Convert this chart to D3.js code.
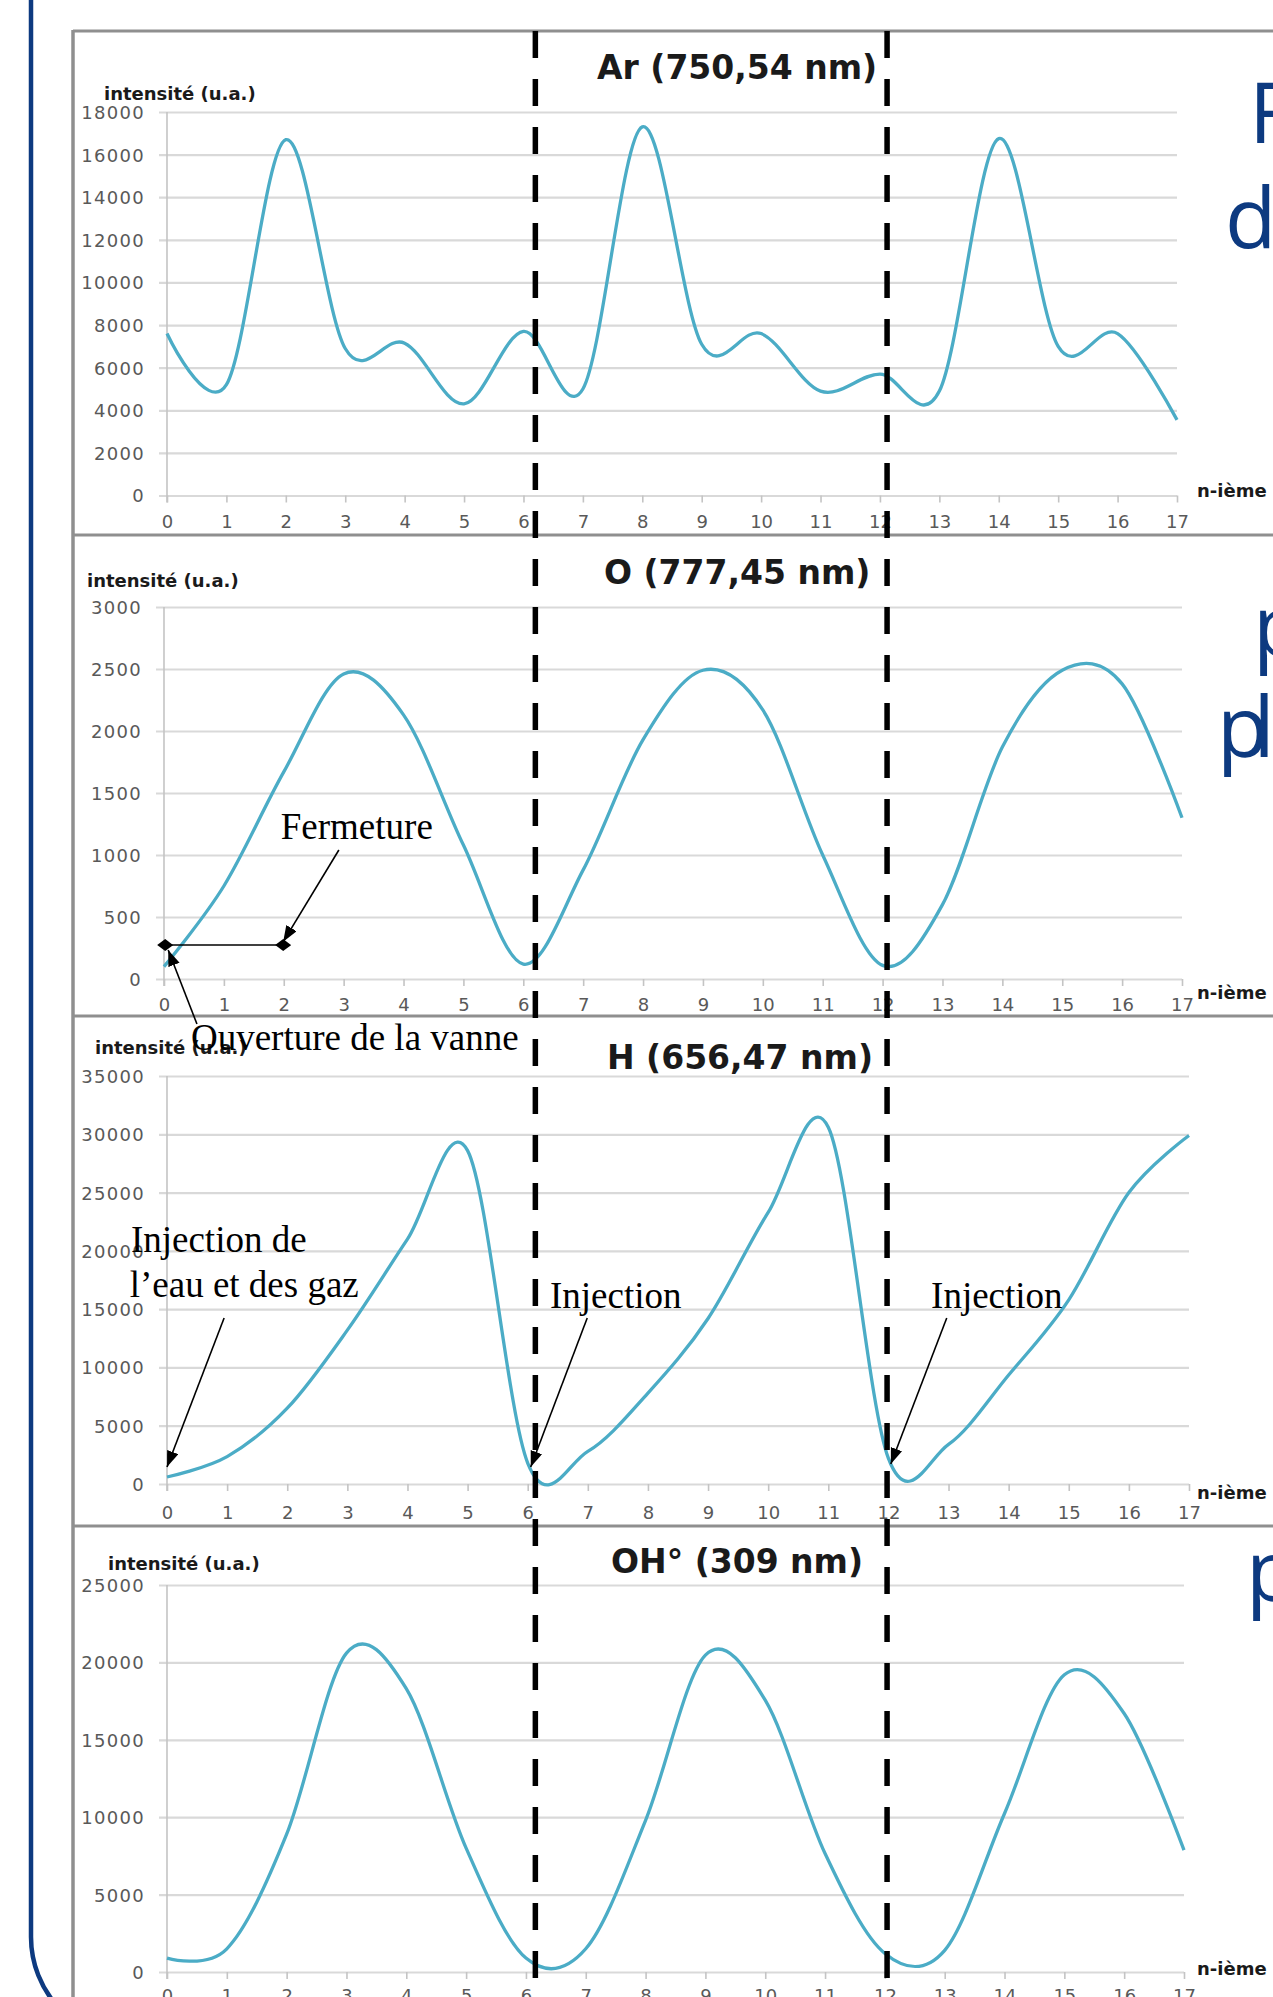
<!DOCTYPE html>
<html><head><meta charset="utf-8">
<script src="https://cdn.jsdelivr.net/npm/d3@7"></script>
<style>html,body{margin:0;padding:0;background:#fff;overflow:hidden;} svg{display:block;}</style>
</head><body>
<svg id="c" width="1273" height="1997"></svg>
<script>
// ---------------- DATA ----------------
const xCategories = [0,1,2,3,4,5,6,7,8,9,10,11,12,13,14,15,16,17];
const xTickLabels = ["0","1","2","3","4","5","6","7","8","9","10","11","12","13","14","15","16","17"];
const xAxisLabel = "n-ième";
const yAxisLabel = "intensité (u.a.)";
const titles = ["Ar (750,54 nm)", "O (777,45 nm)", "H (656,47 nm)", "OH° (309 nm)"];

const arValues = [7600, 5200, 16700, 6900, 7150, 4300, 7700, 5000, 17300, 7100, 7600, 4900, 5700, 4900, 16750, 7000, 7600, 3550];
const oValues  = [100, 750, 1670, 2460, 2130, 1080, 120, 880, 1930, 2490, 2170, 1000, 110, 600, 1870, 2490, 2380, 1300];
const hValues  = [600, 2350, 6500, 13200, 21000, 28600, 1800, 2800, 7800, 14200, 23300, 30600, 2200, 3400, 9350, 15800, 25000, 29900];
const ohValues = [900, 1500, 8900, 20600, 18300, 8000, 900, 1500, 9800, 20470, 17560, 7650, 1200, 1400, 10240, 19200, 16700, 7870];

const arTicks = [0, 2000, 4000, 6000, 8000, 10000, 12000, 14000, 16000, 18000];
const oTicks  = [0, 500, 1000, 1500, 2000, 2500, 3000];
const hTicks  = [0, 5000, 10000, 15000, 20000, 25000, 30000, 35000];
const ohTicks = [0, 5000, 10000, 15000, 20000, 25000];

// cycle boundaries (n-ième mesure), dashed markers
const cycleMarks = [6.2, 12.12];

// annotations (panel index, text, position in data units)
const annoTexts = [
  {p:1, x:1.95, y:1129, text:"Fermeture"},
  {p:1, x:0.45, y:-573, text:"Ouverture de la vanne"},
  {p:2, x:-0.6, y:19900, text:"Injection de"},
  {p:2, x:-0.62, y:16040, text:"l\u2019eau et des gaz"},
  {p:2, x:6.37, y:15090, text:"Injection"},
  {p:2, x:12.71, y:15090, text:"Injection"}
];
const annoArrows = [
  {p:1, from:[2.92,1040], to:[1.99,300], start:"none", end:"tri"},
  {p:1, from:[1.99,274], to:[0.02,274], start:"dia", end:"dia"},
  {p:1, from:[0.55,-363], to:[0.07,234], start:"none", end:"tri"},
  {p:2, from:[0.95,14240], to:[0.0,1460], start:"none", end:"tri"},
  {p:2, from:[6.99,14240], to:[6.05,1460], start:"none", end:"tri"},
  {p:2, from:[12.97,14240], to:[12.04,1715], start:"none", end:"tri"}
];
const slideWords = [
  {p:0, text:"F", line:0}, {p:0, text:"d", line:1},
  {p:1, text:"p", line:0}, {p:1, text:"pl", line:1},
  {p:3, text:"p", line:0}
];

// ---------------- LAYOUT ----------------
const W = 1273, H = 1997;
const svg = d3.select("#c");
svg.append("rect").attr("width", W).attr("height", H).attr("fill", "#fff");

const defs = svg.append("defs");
defs.append("marker").attr("id","tri").attr("markerUnits","userSpaceOnUse")
  .attr("markerWidth",18).attr("markerHeight",14).attr("refX",16).attr("refY",6)
  .attr("orient","auto").append("path").attr("d","M0,0 L16,6 L0,12 Z").attr("fill","#000");
defs.append("marker").attr("id","dia").attr("markerUnits","userSpaceOnUse")
  .attr("markerWidth",16).attr("markerHeight",16).attr("refX",8).attr("refY",8)
  .attr("orient","auto").append("path").attr("d","M0,8 L8,2 L16,8 L8,14 Z").attr("fill","#000");

const layouts = [
  {values: arValues, ticks: arTicks, x0:167, x1:1177, yTop:112, yBot:495.5, title:[597,79], ylab:[104,100], xlabY:521, nY:490, words:[143,248], wordX:[1249,1225]},
  {values: oValues,  ticks: oTicks,  x0:164, x1:1182, yTop:607, yBot:979,   title:[604,584], ylab:[87,587], xlabY:1004, nY:992, words:[656,757], wordX:[1253,1217]},
  {values: hValues,  ticks: hTicks,  x0:167, x1:1189, yTop:1076, yBot:1484, title:[607,1069], ylab:[95,1054], xlabY:1512, nY:1492, words:[0,0], wordX:[0,0]},
  {values: ohValues, ticks: ohTicks, x0:167, x1:1184, yTop:1585, yBot:1972, title:[611,1573], ylab:[108,1570], xlabY:1995, nY:1968, words:[1601,0], wordX:[1246,0]}
];

const scales = layouts.map(L => {
  const ymax = L.ticks[L.ticks.length-1];
  return {
    x: d3.scaleLinear().domain([0,17]).range([L.x0, L.x1]),
    y: d3.scaleLinear().domain([0,ymax]).range([L.yBot, L.yTop])
  };
});

const lineColor = "#4bacc6";
const gridColor = "#d9d9d9";
const tickTextColor = "#595959";

// Slide blue border (left, rounded bottom)
svg.append("path")
  .attr("d", "M31,0 L31,1937 A104,104 0 0 0 135,2041")
  .attr("fill","none").attr("stroke","#0d3a80").attr("stroke-width",4.5);

// chart frame
const frame = svg.append("g");
frame.append("line").attr("x1",73).attr("x2",W).attr("y1",31).attr("y2",31).attr("stroke","#8f8f8f").attr("stroke-width",3);
frame.append("line").attr("x1",73).attr("x2",73).attr("y1",30).attr("y2",H).attr("stroke","#8f8f8f").attr("stroke-width",3.5);
[535, 1016, 1526].forEach(y => {
  frame.append("line").attr("x1",72).attr("x2",W).attr("y1",y).attr("y2",y).attr("stroke","#8f8f8f").attr("stroke-width",3);
});

layouts.forEach((L, i) => {
  const s = scales[i];
  const g = svg.append("g");
  // y grid + labels
  const yAxis = d3.axisLeft(s.y).tickValues(L.ticks).tickSize(-(L.x1 - L.x0 + 8)).tickFormat(d3.format("d"));
  const ya = g.append("g").attr("transform", `translate(${L.x0 - 8},0)`).call(yAxis);
  ya.select(".domain").remove();
  ya.selectAll(".tick line").attr("stroke", gridColor).attr("stroke-width", 2.2);
  ya.selectAll(".tick text").attr("x", -14).attr("font-family","DejaVu Sans").attr("font-size", 18)
    .attr("letter-spacing", 1.3).attr("fill", tickTextColor).attr("dy","0.36em");
  // vertical axis line
  g.append("line").attr("x1",L.x0).attr("x2",L.x0).attr("y1",L.yTop).attr("y2",L.yBot + 7)
    .attr("stroke","#c4c4c4").attr("stroke-width",1.6);
  // x axis ticks + labels
  const xAxis = d3.axisBottom(s.x).tickValues(xCategories).tickSize(7).tickPadding(9)
    .tickFormat((d, k) => xTickLabels[k]);
  const xa = g.append("g").attr("transform", `translate(0,${L.yBot})`).call(xAxis);
  xa.select(".domain").remove();
  xa.selectAll(".tick line").attr("stroke","#c4c4c4").attr("stroke-width",1.6);
  xa.selectAll(".tick text").attr("y", null).attr("dy", null)
    .attr("transform", `translate(0,${L.xlabY - L.yBot})`).attr("dominant-baseline","central")
    .attr("font-family","DejaVu Sans").attr("font-size",18).attr("fill",tickTextColor);
  // series line
  const line = d3.line().x((d, k) => s.x(xCategories[k])).y(d => s.y(d)).curve(d3.curveCardinal.tension(0));
  g.append("path").datum(L.values).attr("d", line).attr("fill","none")
    .attr("stroke", lineColor).attr("stroke-width", 3.3).attr("stroke-linejoin","round");
  // title
  g.append("text").attr("x", L.title[0]).attr("y", L.title[1]).text(titles[i])
    .attr("font-family","DejaVu Sans").attr("font-weight","bold").attr("font-size",33).attr("fill","#1a1a1a");
  // y axis label
  g.append("text").attr("x", L.ylab[0]).attr("y", L.ylab[1]).text(yAxisLabel)
    .attr("font-family","DejaVu Sans").attr("font-weight","bold").attr("font-size",18).attr("fill","#1a1a1a");
  // x axis label
  g.append("text").attr("x", 1197).attr("y", L.nY).attr("dominant-baseline","central").text(xAxisLabel)
    .attr("font-family","DejaVu Sans").attr("font-weight","bold").attr("font-size",18).attr("fill","#1a1a1a");
});

// dashed cycle markers (aligned on the first panel's scale)
cycleMarks.forEach(v => {
  const x = scales[0].x(v);
  svg.append("line").attr("x1",x).attr("x2",x).attr("y1",31).attr("y2",H)
    .attr("stroke","#000").attr("stroke-width",5.5).attr("stroke-dasharray","27 21");
});

// annotations
annoArrows.forEach(a => {
  const s = scales[a.p];
  svg.append("line")
    .attr("x1", s.x(a.from[0])).attr("y1", s.y(a.from[1]))
    .attr("x2", s.x(a.to[0])).attr("y2", s.y(a.to[1]))
    .attr("stroke","#000").attr("stroke-width",1.6)
    .attr("marker-start", a.start === "none" ? null : `url(#${a.start})`)
    .attr("marker-end", a.end === "none" ? null : `url(#${a.end})`);
});
annoTexts.forEach(t => {
  const s = scales[t.p];
  svg.append("text").attr("x", s.x(t.x)).attr("y", s.y(t.y)).text(t.text)
    .attr("font-family","Liberation Serif").attr("font-size",37).attr("fill","#000");
});

// slide text (cut by the right edge)
slideWords.forEach(w => {
  const L = layouts[w.p];
  svg.append("text").attr("x", L.wordX[w.line]).attr("y", L.words[w.line]).text(w.text)
    .attr("font-family","Open Sans").attr("font-size",84).attr("letter-spacing", w.text.length > 1 ? -15 : 0)
    .attr("fill","#0d3a80");
});
</script>
</body></html>
